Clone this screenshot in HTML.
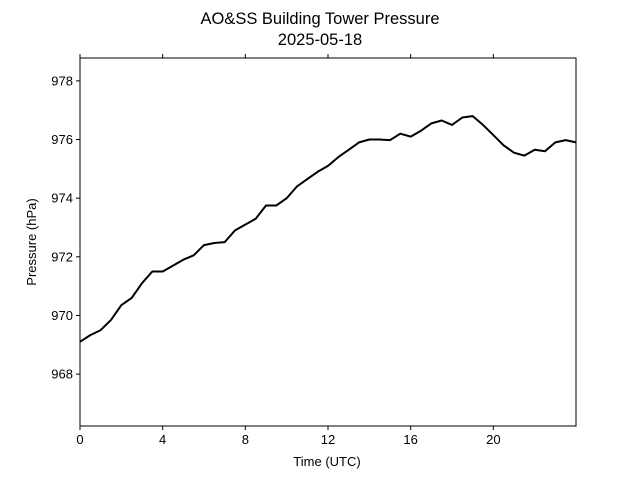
<!DOCTYPE html>
<html><head><meta charset="utf-8">
<style>
html,body{margin:0;padding:0;background:#fff;}
svg{display:block;font-family:"Liberation Sans","DejaVu Sans",sans-serif;}
</style></head>
<body>
<svg id="chart" width="640" height="480">
  <text x="320" y="24" text-anchor="middle" font-size="16.5">AO&amp;SS Building Tower Pressure</text>
  <text x="320" y="45" text-anchor="middle" font-size="16.5">2025-05-18</text>
  <g id="axes"></g>
  <text x="327" y="466" text-anchor="middle" font-size="13">Time (UTC)</text>
  <text transform="translate(36,242) rotate(-90)" text-anchor="middle" font-size="13">Pressure (hPa)</text>
</svg>
<script>
const hours = [0,0.5,1,1.5,2,2.5,3,3.5,4,4.5,5,5.5,6,6.5,7,7.5,8,8.5,9,9.5,10,10.5,11,11.5,12,12.5,13,13.5,14,14.5,15,15.5,16,16.5,17,17.5,18,18.5,19,19.5,20,20.5,21,21.5,22,22.5,23,23.5,24];
const pressure = [969.1,969.33,969.5,969.85,970.35,970.6,971.1,971.5,971.5,971.7,971.9,972.05,972.4,972.47,972.5,972.9,973.1,973.3,973.75,973.75,974.0,974.4,974.65,974.9,975.1,975.4,975.65,975.9,976.0,976.0,975.98,976.2,976.1,976.3,976.55,976.65,976.5,976.75,976.8,976.5,976.15,975.8,975.55,975.45,975.65,975.6,975.9,975.98,975.9];
const xTicks = [0,4,8,12,16,20];
const yTicks = [968,970,972,974,976,978];

const L=80,R=576,T=58,B=426;
const xMin=0,xMax=24,yMin=966.23,yMax=978.78;
const sx=v=>L+(v-xMin)/(xMax-xMin)*(R-L);
const sy=v=>B-(v-yMin)/(yMax-yMin)*(B-T);
const NS="http://www.w3.org/2000/svg";
const g=document.getElementById('axes');
function mk(tag,attrs){const e=document.createElementNS(NS,tag);for(const k in attrs)e.setAttribute(k,attrs[k]);g.appendChild(e);return e;}

let d='';
hours.forEach((h,i)=>{d+=(i?'L':'M')+sx(h).toFixed(1)+','+sy(pressure[i]).toFixed(1);});
const line=mk('path',{d:d,fill:'none',stroke:'#000','stroke-width':2,'stroke-linejoin':'round'});



const frame=mk('rect',{x:L,y:T,width:R-L,height:B-T,fill:'none',stroke:'#000','stroke-width':1});



xTicks.forEach(v=>{
  const x=sx(v);
  mk('line',{x1:x,x2:x,y1:B,y2:B+4,stroke:'#000'});
  mk('line',{x1:x,x2:x,y1:T,y2:T-4,stroke:'#000'});
  const t=mk('text',{x:x,y:B+18,'text-anchor':'middle','font-size':13});
  t.textContent=v;
  
  
});
yTicks.forEach(v=>{
  const y=sy(v);
  mk('line',{x1:L-4,x2:L,y1:y,y2:y,stroke:'#000'});
  const t=mk('text',{x:L-7,y:y+4.5,'text-anchor':'end','font-size':13});
  t.textContent=v;
  
  
});
</script>
</body></html>
